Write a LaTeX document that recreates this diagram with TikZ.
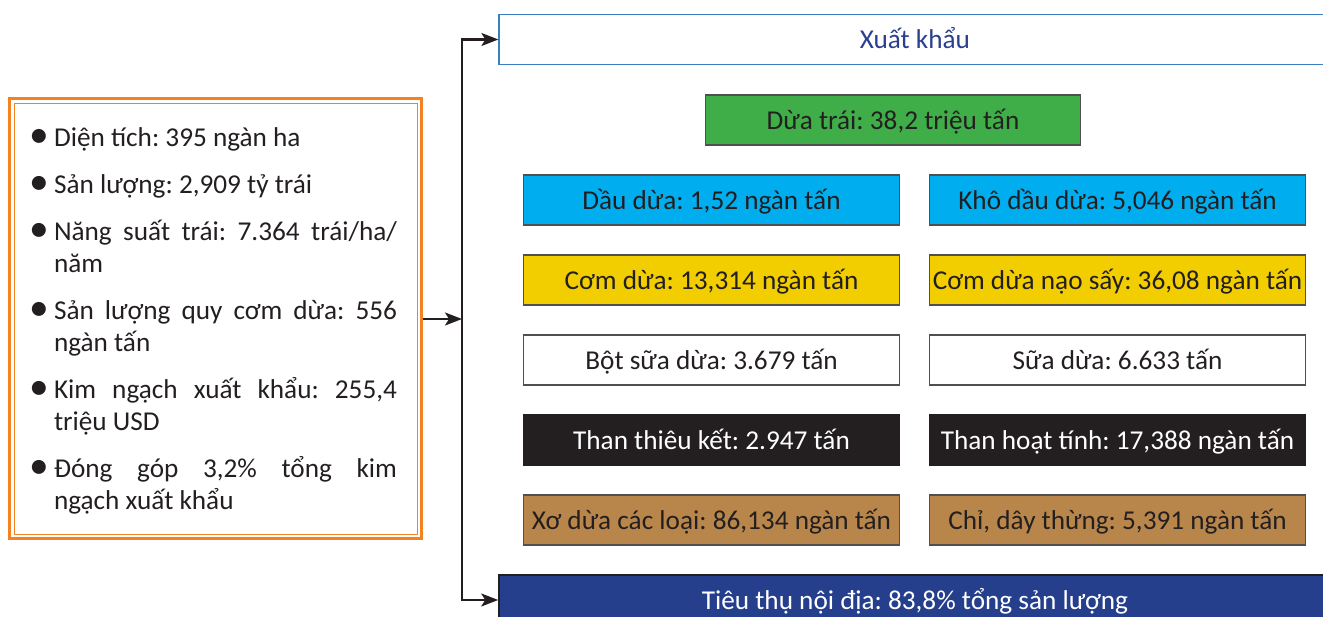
\documentclass[tikz,border=0pt]{standalone}
\usepackage{fontspec}
\setmainfont{Carlito}
\usetikzlibrary{positioning,arrows.meta,calc}
\definecolor{ink}{HTML}{231F20}
\definecolor{orangec}{HTML}{F58220}
\definecolor{xkblue}{HTML}{3C7FC1}
\definecolor{xktext}{HTML}{2B3F8F}
\definecolor{greenc}{HTML}{3FAE49}
\definecolor{cyanc}{HTML}{00AEEF}
\definecolor{yellowc}{HTML}{F2CD00}
\definecolor{brownc}{HTML}{B8864A}
\definecolor{navyc}{HTML}{253F8D}
\definecolor{edgegray}{HTML}{505050}
\frenchspacing
\newcommand{\fs}{\fontsize{15.5}{18.2}\selectfont}
\newcommand{\ditem}[1]{\noindent\hangindent=0.4cm\hangafter=1\makebox[0.4cm][l]{\hspace{-2.6pt}\raisebox{-0.6pt}{\scalebox{1.45}{\textbullet}}}#1\par}
\tikzset{
  infobox/.style={draw=orangec,line width=1.7pt,minimum width=8.24cm,minimum height=8.8cm,inner sep=0pt},
  infotext/.style={text width=7.26cm,align=justify,inner sep=0pt,font=\fs,text=ink},
  bar/.style={draw=edgegray,line width=0.6pt,minimum width=7.54cm,minimum height=1cm,
    inner sep=0pt,text height=13pt,text depth=2.5pt,font=\fs,text=ink},
  widebar/.style={minimum width=16.64cm,minimum height=1cm,inner sep=0pt,
    text height=13pt,text depth=2.5pt,font=\fs},
  link/.style={line width=1.2pt,draw=ink},
  arr/.style={link,-{Stealth[length=3.4mm,width=2.6mm,inset=0.8mm]}},
}

\begin{document}
\begin{tikzpicture}[x=0.02cm,y=-0.02cm]
  \useasboundingbox (0,0) rectangle (1323,617);
  % left summary
  \node[infobox] (info) at (215.5,318.5) {};
  \draw[orangec,line width=0.5pt] ($(info.south west)+(0.12cm,0.12cm)$) rectangle ($(info.north east)+(-0.12cm,-0.12cm)$);
  \node[infotext] (txt) at (215.5,321) {\setlength{\parskip}{8.5pt}%
    \ditem{Diện tích: 395 ngàn ha}
    \ditem{Sản lượng: 2,909 tỷ trái}
    \ditem{Năng suất trái: 7.364 trái/ha/\linebreak năm}
    \ditem{Sản lượng quy cơm dừa: 556\linebreak ngàn tấn}
    \ditem{Kim ngạch xuất khẩu: 255,4\linebreak triệu USD}
    \ditem{Đóng góp 3,2\% tổng kim\linebreak ngạch xuất khẩu}};
  % export / domestic
  \node[widebar,draw=xkblue,line width=0.8pt,text=xktext] (xuat) at (915,39.5) {Xuất khẩu};
  \node[widebar,draw=ink,line width=1pt,fill=navyc,text=white] (tieuthu) at (915,600) {Tiêu thụ nội địa: 83,8\% tổng sản lượng};
  % products
  \node[bar,fill=greenc,minimum width=7.52cm] (dua) at (893,120) {Dừa trái: 38,2 triệu tấn};
  \node[bar,fill=cyanc] (dau) at (711.5,200) {Dầu dừa: 1,52 ngàn tấn};
  \node[bar,fill=cyanc] (kho) at (1117.5,200) {Khô dầu dừa: 5,046 ngàn tấn};
  \node[bar,fill=yellowc] (com) at (711.5,280) {Cơm dừa: 13,314 ngàn tấn};
  \node[bar,fill=yellowc] (comsay) at (1117.5,280) {Cơm dừa nạo sấy: 36,08 ngàn tấn};
  \node[bar,fill=white] (bot) at (711.5,360) {Bột sữa dừa: 3.679 tấn};
  \node[bar,fill=white] (sua) at (1117.5,360) {Sữa dừa: 6.633 tấn};
  \node[bar,fill=ink,text=white,draw=ink] (thanthieu) at (711.5,440) {Than thiêu kết: 2.947 tấn};
  \node[bar,fill=ink,text=white,draw=ink] (thanhoat) at (1117.5,440) {Than hoạt tính: 17,388 ngàn tấn};
  \node[bar,fill=brownc] (xo) at (711.5,520) {Xơ dừa các loại: 86,134 ngàn tấn};
  \node[bar,fill=brownc] (chi) at (1117.5,520) {Chỉ, dây thừng: 5,391 ngàn tấn};
  % connectors
  \coordinate (split) at (462,319);
  \draw[arr] (info.east |- split) -- (split);
  \draw[arr] (split) |- (xuat.west);
  \draw[arr] (split) |- (tieuthu.west);
\end{tikzpicture}
\end{document}
